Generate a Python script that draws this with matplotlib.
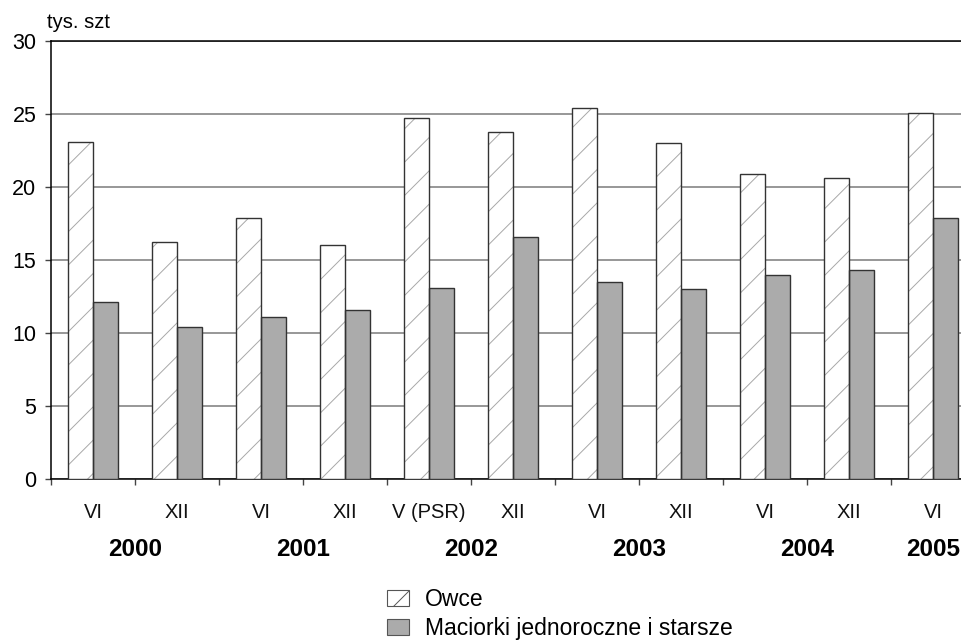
import matplotlib
matplotlib.use("Agg")
import matplotlib.pyplot as plt
import matplotlib.transforms as mtransforms
from matplotlib.patches import Patch
import numpy as np

plt.rcParams['font.family'] = ['Liberation Sans', 'DejaVu Sans']
plt.rcParams['hatch.linewidth'] = 0.7
plt.rcParams['hatch.color'] = '#a8a8a8'

# ---- data ----
months = ['VI', 'XII', 'VI', 'XII', 'V (PSR)', 'XII', 'VI', 'XII', 'VI', 'XII', 'VI']
owce = [23.1, 16.2, 17.9, 16.0, 24.7, 23.8, 25.4, 23.0, 20.9, 20.6, 25.1]
maciorki = [12.1, 10.4, 11.1, 11.6, 13.1, 16.6, 13.5, 13.0, 14.0, 14.3, 17.9]
years = ['2000', '2001', '2002', '2003', '2004', '2005']
year_groups = [(0, 1), (2, 3), (4, 5), (6, 7), (8, 9), (10, 10)]
yticks = [0, 5, 10, 15, 20, 25, 30]
series_names = ['Owce', 'Maciorki jednoroczne i starsze']
unit_label = 'tys. szt'

W, H = 962, 640
fig = plt.figure(figsize=(W / 100, H / 100), dpi=100)
ax = fig.add_axes([51 / W, 1 - 479 / H, 1 - 51 / W, 438 / H])

x = np.arange(len(months))
bw = 0.3
grey = '#ababab'

# Owce bars: hatch layer then outline
ax.bar(x - bw / 2, owce, width=bw, color='white', edgecolor='#a8a8a8',
       hatch='/', linewidth=0, zorder=3)
ax.bar(x - bw / 2, owce, width=bw, facecolor='none', edgecolor='#333333',
       linewidth=1.0, zorder=4)
ax.bar(x + bw / 2, maciorki, width=bw, color=grey, edgecolor='#333333',
       linewidth=1.0, zorder=3)

ax.set_ylim(0, 30)
ax.set_xlim(-0.5, (W - 51) / 84 - 0.5)
ax.set_yticks(yticks)
ax.set_yticklabels([str(v) for v in yticks])
ax.yaxis.grid(True, color='#7a7a7a', linewidth=1.1, zorder=0)
ax.set_axisbelow(True)

ax.spines['right'].set_visible(False)
for s in ['left', 'bottom', 'top']:
    ax.spines[s].set_color('black')
    ax.spines[s].set_linewidth(1.1)

ax.set_xticks(np.arange(len(months)) - 0.5)
ax.set_xticklabels([])
ax.tick_params(axis='x', direction='out', length=4, width=1, color='#444444')
ax.tick_params(axis='y', direction='out', length=4.5, width=1, pad=6,
               labelsize=15.5, color='#444444')

trans = mtransforms.blended_transform_factory(ax.transData, ax.transAxes)
for i, m in enumerate(months):
    ax.text(x[i], -33 / 438, m, transform=trans, ha='center', va='center',
            fontsize=14.5, color='#111111')
for yr, (a, b) in zip(years, year_groups):
    ax.text((x[a] + x[b]) / 2, -70 / 438, yr, transform=trans, ha='center',
            va='center', fontsize=17.5, fontweight='bold', color='black')

ax.text(-4 / 911, 1.0 + 9 / 438, unit_label, transform=ax.transAxes,
        ha='left', va='bottom', fontsize=14.5, color='black')

handles = [Patch(facecolor='white', edgecolor='#555555', hatch='/', linewidth=0.8),
           Patch(facecolor=grey, edgecolor='#555555', linewidth=0.8)]
fig.legend(handles, series_names, loc='upper left',
           bbox_to_anchor=(387 / W, 1 - 588 / H), frameon=False,
           fontsize=16.5, handlelength=0.95, handleheight=0.7,
           handletextpad=0.7, labelspacing=0.25, borderpad=0, borderaxespad=0)

fig.savefig('out.png', dpi=100)
